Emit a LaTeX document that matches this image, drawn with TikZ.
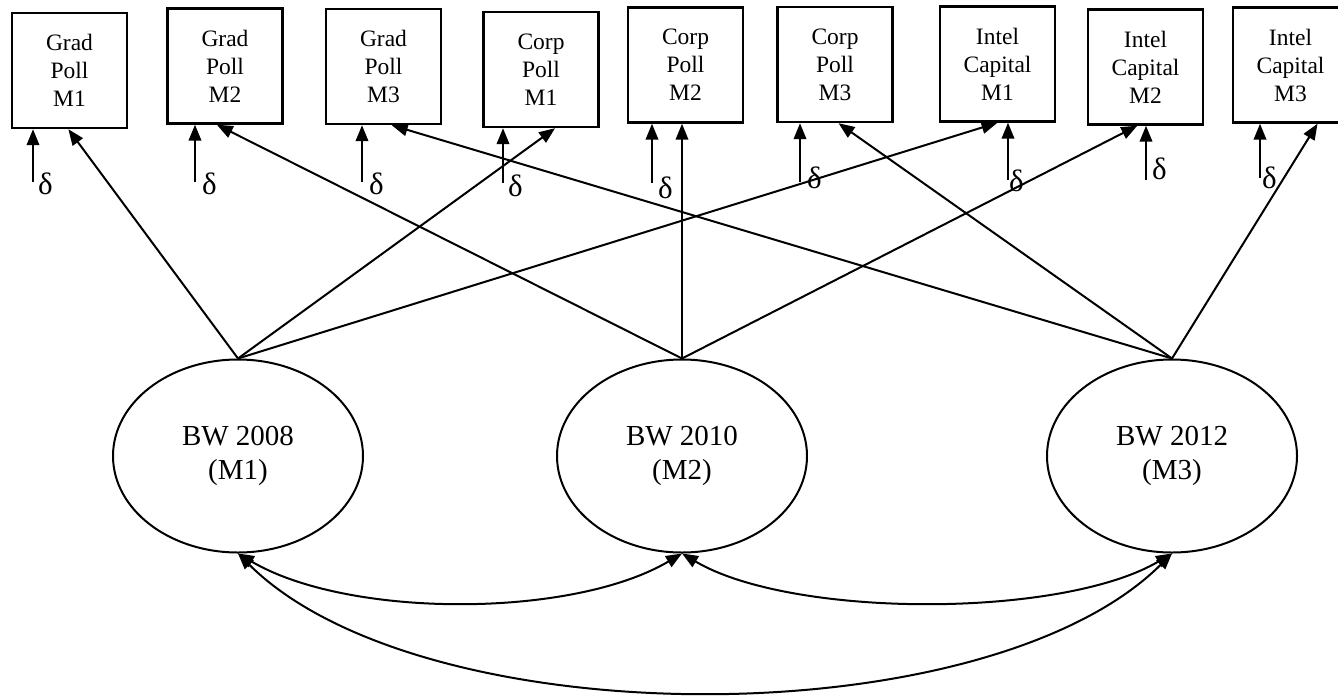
\documentclass[tikz,border=0pt]{standalone}
\usepackage{fontspec}
\setmainfont{Liberation Serif}
\usetikzlibrary{arrows.meta,calc,shapes.geometric}
\tikzset{
  >={Triangle[length=16pt,width=12.5pt]},
  % indikatorer
  ov/.style={draw,line width=2.4pt,minimum width=115pt,minimum height=115pt,
             inner sep=0pt,align=center,font=\fontsize{23.5}{28}\selectfont},
  ld/.style={->,line width=2pt},
  err/.style={->,line width=2.2pt},
  dl/.style={anchor=west,inner sep=2pt,font=\fontsize{31}{31}\selectfont},
  % latenta
  lv/.style={ellipse,draw,line width=2pt,minimum width=250pt,minimum height=193pt,
             inner sep=0pt,align=center,font=\fontsize{29}{34}\selectfont},
  cov/.style={<->,line width=2pt},
}

\begin{document}
\begin{tikzpicture}[x=1pt,y=-1pt]
  \useasboundingbox (0,0) rectangle (1338,696);
  \node[ov] (gp1) at (69.5,70.5) {Grad\\Poll\\M1};
  \node[ov] (gp2) at (225,66) {Grad\\Poll\\M2};
  \node[ov] (gp3) at (383.5,66.5) {Grad\\Poll\\M3};
  \node[ov] (cp1) at (541,69.5) {Corp\\Poll\\M1};
  \node[ov] (cp2) at (685.5,65) {Corp\\Poll\\M2};
  \node[ov] (cp3) at (835,64.5) {Corp\\Poll\\M3};
  \node[ov] (ic1) at (997.5,64) {Intel\\Capital\\M1};
  \node[ov] (ic2) at (1145.5,67) {Intel\\Capital\\M2};
  \node[ov] (ic3) at (1290.5,65) {Intel\\Capital\\M3};
  \node[lv] (bw08) at (238,456) {BW 2008\\(M1)};
  \node[lv] (bw10) at (682,456) {BW 2010\\(M2)};
  \node[lv] (bw12) at (1172,456) {BW 2012\\(M3)};
  % laddningar
  \draw[ld] (bw08.north) -- ($(gp1.south west)!.49!(gp1.south east)$);
  \draw[ld] (bw08.north) -- ($(cp1.south west)!.62!(cp1.south east)$);
  \draw[ld] (bw08.north) -- ($(ic1.south west)!.50!(ic1.south east)$);
  \draw[ld] (bw10.north) -- ($(gp2.south west)!.43!(gp2.south east)$);
  \draw[ld] (bw10.north) -- (bw10.north |- cp2.south);
  \draw[ld] (bw10.north) -- ($(ic2.south west)!.43!(ic2.south east)$);
  \draw[ld] (bw12.north) -- ($(gp3.south west)!.57!(gp3.south east)$);
  \draw[ld] (bw12.north) -- ($(cp3.south west)!.53!(cp3.south east)$);
  \draw[ld] (bw12.north) -- ($(ic3.south west)!.73!(ic3.south east)$);
  % fel
  \coordinate (dg1) at (33,182);
  \coordinate (dg2) at (195,182);
  \coordinate (dg3) at (362,182);
  \coordinate (dc1) at (503,183);
  \coordinate (dc2) at (652,183);
  \coordinate (dc3) at (800,182);
  \coordinate (di1) at (1008,180);
  \coordinate (di2) at (1146,180);
  \coordinate (di3) at (1260,178);
  \draw[err] (dg1) -- (dg1 |- gp1.south);
  \draw[err] (dg2) -- (dg2 |- gp2.south);
  \draw[err] (dg3) -- (dg3 |- gp3.south);
  \draw[err] (dc1) -- (dc1 |- cp1.south);
  \draw[err] (dc2) -- (dc2 |- cp2.south);
  \draw[err] (dc3) -- (dc3 |- cp3.south);
  \draw[err] (di1) -- (di1 |- ic1.south);
  \draw[err] (di2) -- (di2 |- ic2.south);
  \draw[err] (di3) -- (di3 |- ic3.south);
  \node[dl] (eg1) at (36,184) {δ};
  \node[dl] (eg2) at (200,184) {δ};
  \node[dl] (eg3) at (367,184) {δ};
  \node[dl] (ec1) at (506,186) {δ};
  \node[dl] (ec2) at (656,188) {δ};
  \node[dl] (ec3) at (805,178) {δ};
  \node[dl] (ei1) at (1007,181) {δ};
  \node[dl] (ei2) at (1150,169) {δ};
  \node[dl] (ei3) at (1260,178) {δ};
  % kovarianser
  \draw[cov] (bw08.south) .. controls +(110,65) and +(-110,65) .. (bw10.south);
  \draw[cov] (bw10.south) .. controls +(110,65) and +(-110,65) .. (bw12.south);
  \draw[cov] (bw08.south) .. controls +(185,184) and +(-185,184) .. (bw12.south);
\end{tikzpicture}
\end{document}
